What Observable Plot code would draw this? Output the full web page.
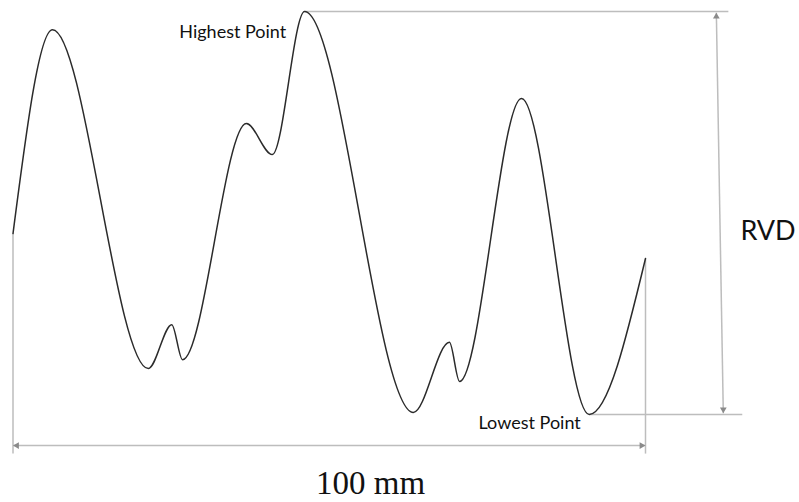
<!DOCTYPE html>
<html>
<head>
<meta charset="utf-8">
<script src="https://cdn.jsdelivr.net/npm/d3@7"></script>
<script src="https://cdn.jsdelivr.net/npm/@observablehq/plot@0.6"></script>
<style>
  html, body { margin: 0; padding: 0; background: #fff; }
  svg { display: block; }
</style>
</head>
<body>
<div id="chart"></div>
<script>
// Surface profile: position along the 100 mm sample and relative height (lowest = 0, highest = 100)
const profileX = [0, 6.24, 21.4, 25.1, 26.8, 36.9, 41.0, 46.1, 63.3, 69.0, 70.6, 80.4, 91.1, 100];
const profileY = [44.9, 95.5, 11.4, 22.3, 13.6, 72.2, 64.5, 100, 0.5, 17.9, 8.2, 78.4, 0, 38.7];

// Reference (extension) lines
const guideX1 = [46.1, 91.1, 0, 100];
const guideY1 = [100, 0, 44.9, 38.7];
const guideX2 = [113.1, 115.3, 0, 100];
const guideY2 = [100, 0, -9.7, -9.7];

// Dimension arrows
const lengthArrowX = [0, 100];
const lengthArrowY = -7.7;
const rvdArrowX = [111.2, 112.3];
const rvdArrowY = [99.7, 0.3];

// Labels
const labelText = ["Highest Point", "Lowest Point", "RVD", "100 mm"];
const labelX = [43.2, 73.6, 115.0, 47.9];
const labelY = [93.5, -3.5, 43.2, -19.8];

const profile = profileX.map((x, i) => ({x, y: profileY[i]}));
const guides = guideX1.map((x1, i) => ({x1, y1: guideY1[i], x2: guideX2[i], y2: guideY2[i]}));
const labels = labelText.map((t, i) => ({t, x: labelX[i], y: labelY[i]}));

const lineGray = "#bdbdbd";
const headGray = "#8a8a8a";

const chart = Plot.plot({
  width: 799,
  height: 502,
  margin: 0,
  x: {domain: [0, 100], range: [12.5, 645], axis: null},
  y: {domain: [0, 100], range: [414, 11], axis: null},
  marks: [
    Plot.link(guides, {x1: "x1", y1: "y1", x2: "x2", y2: "y2", stroke: lineGray, strokeWidth: 1.5}),
    Plot.link([{}], {x1: lengthArrowX[0], x2: lengthArrowX[1], y1: lengthArrowY, y2: lengthArrowY, stroke: lineGray, strokeWidth: 1.5}),
    Plot.link([{}], {x1: rvdArrowX[0], x2: rvdArrowX[1], y1: rvdArrowY[0], y2: rvdArrowY[1], stroke: lineGray, strokeWidth: 1.5}),
    Plot.dot([{x: lengthArrowX[0], y: lengthArrowY}], {x: "x", y: "y", symbol: "triangle", r: 2.5, fill: headGray, rotate: -90, dx: 3.9}),
    Plot.dot([{x: lengthArrowX[1], y: lengthArrowY}], {x: "x", y: "y", symbol: "triangle", r: 2.5, fill: headGray, rotate: 90, dx: -3.9}),
    Plot.dot([{x: rvdArrowX[0], y: rvdArrowY[0]}], {x: "x", y: "y", symbol: "triangle", r: 2.5, fill: headGray, rotate: 0, dy: 3.9}),
    Plot.dot([{x: rvdArrowX[1], y: rvdArrowY[1]}], {x: "x", y: "y", symbol: "triangle", r: 2.5, fill: headGray, rotate: 180, dy: -3.9}),
    Plot.line(profile, {x: "x", y: "y", curve: "monotone-x", stroke: "#2b2b2b", strokeWidth: 1.5}),
    Plot.text(labels.slice(0, 1), {x: "x", y: "y", text: "t", textAnchor: "end", lineAnchor: "bottom", fontFamily: "Lato", fontSize: 18, fill: "#111"}),
    Plot.text(labels.slice(1, 2), {x: "x", y: "y", text: "t", textAnchor: "start", lineAnchor: "bottom", fontFamily: "Lato", fontSize: 18, fill: "#111"}),
    Plot.text(labels.slice(2, 3), {x: "x", y: "y", text: "t", textAnchor: "start", lineAnchor: "bottom", fontFamily: "Lato", fontSize: 27, fill: "#111"}),
    Plot.text(labels.slice(3, 4), {x: "x", y: "y", text: "t", textAnchor: "start", lineAnchor: "bottom", fontFamily: "Liberation Serif", fontSize: 33, fill: "#111"})
  ]
});
document.getElementById("chart").appendChild(chart);
</script>
</body>
</html>
